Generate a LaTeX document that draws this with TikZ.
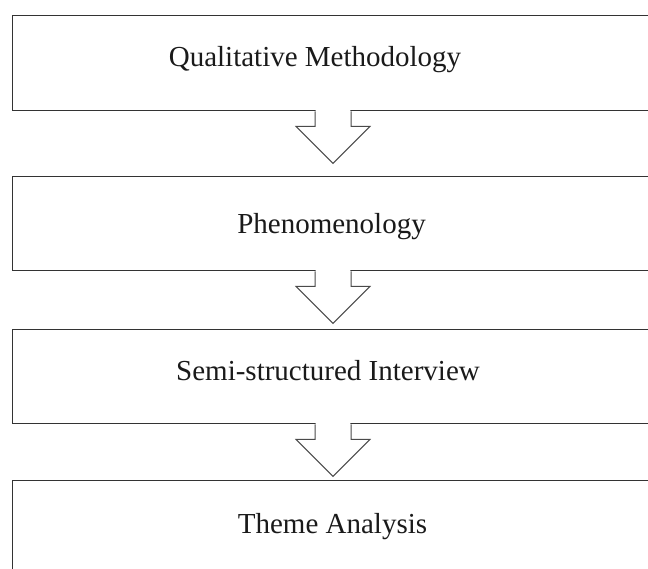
\documentclass[tikz,border=0pt]{standalone}
\usepackage{fontspec}
\setmainfont{Liberation Serif}
\usetikzlibrary{calc}

\tikzset{
  stagebox/.style={draw=boxline, line width=1.4pt, rectangle, inner sep=0pt,
    minimum width=648pt, anchor=north west},
  stagelabel/.style={anchor=base, inner sep=0pt, text=labeltext,
    font=\fontsize{29}{34}\selectfont},
  downarrow/.pic={
    % white body hides the box edge under the shaft, then the open outline
    \fill[white] (-17.4,-2) -- (-17.4,15) -- (-37,15) -- (0,52) -- (37,15)
      -- (17.4,15) -- (17.4,-2) -- cycle;
    \draw[draw=arrowline, line width=1pt, line join=miter]
      (-18,0) -- (-18,15) -- (-37,15) -- (0,52) -- (37,15) -- (18,15) -- (18,0);
  }
}
\definecolor{boxline}{HTML}{333333}
\definecolor{arrowline}{HTML}{4A4A4A}
\definecolor{labeltext}{HTML}{1A1A1A}

\begin{document}
\begin{tikzpicture}[x=1pt, y=-1pt]
  \useasboundingbox (0,0) rectangle (648,568);
  \clip (0,0) rectangle (648,568);
  \fill[white] (0,0) rectangle (648,568);

  % stage boxes (right edge runs off the page)
  \node[stagebox, minimum height=95pt]  (b1) at (12,15)  {};
  \node[stagebox, minimum height=94pt]  (b2) at (12,176) {};
  \node[stagebox, minimum height=94pt]  (b3) at (12,329) {};
  \node[stagebox, minimum height=110pt] (b4) at (12,480) {};

  % block arrows hanging from each box
  \pic at ($(b1.south west)+(321,0)$) {downarrow};
  \pic at ($(b2.south west)+(321,0)$) {downarrow};
  \pic at ($(b3.south west)+(321,0)$) {downarrow};

  % labels
  \node[stagelabel] (t1) at (315,66.7)  {Qualitative Methodology};
  \node[stagelabel] (t2) at (331.5,233.3) {Phenomenology};
  \node[stagelabel] (t3) at (328,380.7) {Semi-structured Interview};
  \node[stagelabel] (t4) at (332.5,533.3) {Theme Analysis};
\end{tikzpicture}
\end{document}
